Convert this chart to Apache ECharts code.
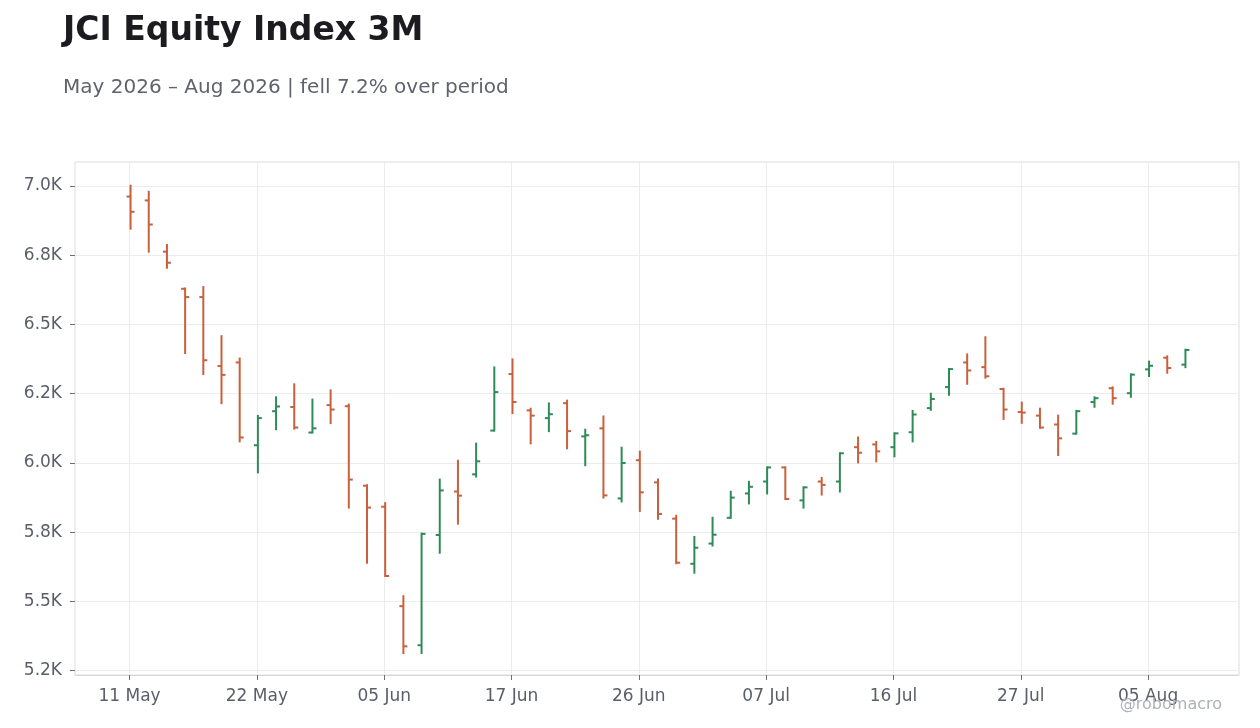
<!DOCTYPE html>
<html>
<head>
<meta charset="utf-8">
<title>JCI Equity Index 3M</title>
<script src="https://cdn.jsdelivr.net/npm/echarts@6.0.0/dist/echarts.min.js"></script>
<style>
  html, body { margin: 0; padding: 0; background: #ffffff; }
  #main { width: 1260px; height: 728px; }
</style>
</head>
<body>
<div id="main"></div>
<script>
// trading days (JCI, holidays skipped)
var dates = [
  '2026-05-11','2026-05-12','2026-05-13','2026-05-18','2026-05-19','2026-05-20','2026-05-21',
  '2026-05-22','2026-05-25','2026-05-28','2026-05-29','2026-06-02','2026-06-03','2026-06-04',
  '2026-06-05','2026-06-08','2026-06-09','2026-06-10','2026-06-11','2026-06-12','2026-06-15',
  '2026-06-17','2026-06-18','2026-06-19','2026-06-22','2026-06-23','2026-06-24','2026-06-25',
  '2026-06-26','2026-06-29','2026-06-30','2026-07-01','2026-07-02','2026-07-03','2026-07-06',
  '2026-07-07','2026-07-08','2026-07-09','2026-07-10','2026-07-13','2026-07-14','2026-07-15',
  '2026-07-16','2026-07-17','2026-07-20','2026-07-21','2026-07-22','2026-07-23','2026-07-24',
  '2026-07-27','2026-07-28','2026-07-29','2026-07-30','2026-07-31','2026-08-03','2026-08-04',
  '2026-08-05','2026-08-06','2026-08-07'
];
var openVals = [
  6962, 6948, 6763, 6629, 6599, 6350, 6363, 6064, 6187, 6202, 6110, 6209, 6205, 5918, 5842,
  5483, 5342, 5740, 5897, 5959, 6117, 6321, 6190, 6162, 6216, 6096, 6125, 5872, 6010, 5930,
  5799, 5636, 5709, 5802, 5890, 5933, 5984, 5865, 5933, 5933, 6057, 6067, 6057, 6111, 6198,
  6274, 6363, 6346, 6267, 6184, 6171, 6139, 6106, 6220, 6270, 6252, 6338, 6380, 6355
];
var highVals = [
  7001, 6979, 6787, 6630, 6635, 6458, 6377, 6170, 6237, 6284, 6229, 6262, 6211, 5920, 5855,
  5519, 5745, 5940, 6008, 6070, 6345, 6374, 6196, 6215, 6225, 6120, 6168, 6055, 6041, 5940,
  5809, 5733, 5802, 5896, 5932, 5984, 5984, 5912, 5946, 6035, 6092, 6076, 6107, 6188, 6250,
  6339, 6392, 6454, 6268, 6218, 6196, 6171, 6188, 6237, 6273, 6320, 6366, 6385, 6409
];
var lowVals = [
  6846, 6763, 6705, 6397, 6321, 6216, 6078, 5966, 6122, 6124, 6110, 6144, 5839, 5640, 5592,
  5314, 5314, 5676, 5781, 5951, 6117, 6180, 6071, 6115, 6053, 5992, 5875, 5861, 5827, 5799,
  5638, 5604, 5702, 5802, 5854, 5890, 5870, 5839, 5886, 5897, 6002, 6006, 6024, 6078, 6192,
  6246, 6286, 6308, 6159, 6145, 6127, 6029, 6106, 6203, 6214, 6239, 6314, 6326, 6346
];
var closeVals = [
  6907, 6861, 6723, 6599, 6371, 6318, 6092, 6162, 6204, 6128, 6125, 6193, 5940, 5839, 5592,
  5338, 5744, 5901, 5882, 6006, 6256, 6220, 6171, 6176, 6115, 6100, 5883, 6000, 5894, 5816,
  5640, 5694, 5741, 5875, 5914, 5984, 5870, 5912, 5921, 6035, 6037, 6042, 6107, 6175, 6231,
  6339, 6334, 6313, 6193, 6182, 6128, 6089, 6187, 6234, 6234, 6319, 6351, 6343, 6408
];
var yTicks = [5250, 5500, 5750, 6000, 6250, 6500, 6750, 7000];

var upColor = '#2e8b57';
var downColor = '#c9603c';
var PAD = 3; // empty slots each side of the x axis
var months = ['Jan','Feb','Mar','Apr','May','Jun','Jul','Aug','Sep','Oct','Nov','Dec'];

var cats = [];
var i;
for (i = 0; i < PAD; i++) cats.push('');
dates.forEach(function (d) { cats.push(d); });
for (i = 0; i < PAD; i++) cats.push('');

var ohlc = dates.map(function (d, k) {
  return [k + PAD, openVals[k], highVals[k], lowVals[k], closeVals[k]];
});

function showEvery7(idx) {
  return idx >= PAD && idx < PAD + dates.length && (idx - PAD) % 7 === 0;
}
function fmtDate(s) {
  if (!s) return '';
  var p = s.split('-');
  return p[2] + ' ' + months[parseInt(p[1], 10) - 1];
}
// one decimal, rounded half to even (6250 -> 6.2K)
function fmtK(v) {
  var t = Math.round(v) / 100;
  var f = Math.floor(t);
  var r = t - f;
  if (r > 0.5 + 1e-9 || (Math.abs(r - 0.5) < 1e-9 && f % 2 === 1)) f += 1;
  return (f / 10).toFixed(1) + 'K';
}

var dom = document.getElementById('main');
var myChart = echarts.init(dom, null, { renderer: 'canvas' });
var font = 'DejaVu Sans';

var option = {
  backgroundColor: '#ffffff',
  animation: false,
  textStyle: { fontFamily: font },
  title: [{
    text: 'JCI Equity Index 3M',
    left: 58,
    top: 10,
    textStyle: { fontFamily: font, fontSize: 33, fontWeight: 'bold', color: '#1b1b20' }
  }, {
    text: 'May 2026 \u2013 Aug 2026 | fell 7.2% over period',
    left: 58,
    top: 73,
    textStyle: { fontFamily: font, fontSize: 20, fontWeight: 'normal', color: '#5f636d' }
  }],
  graphic: [{
    type: 'text',
    right: 38,
    top: 697,
    z: 100,
    style: { text: '@robomacro', fontFamily: font, fontSize: 16, fill: '#aeb1b8' }
  }],
  grid: {
    left: 75, right: 21, top: 162, bottom: 53,
    show: true, borderColor: '#dcdcde', borderWidth: 1, backgroundColor: '#ffffff'
  },
  xAxis: {
    type: 'category',
    data: cats,
    boundaryGap: false,
    axisLine: { show: true, lineStyle: { color: '#d6d6da' } },
    axisTick: { show: true, interval: showEvery7, length: 5, lineStyle: { color: '#6b6f78' } },
    axisLabel: {
      interval: showEvery7, margin: 13, fontSize: 17, color: '#5a5e68', fontFamily: font,
      formatter: function (v) { return fmtDate(v); }
    },
    splitLine: { show: true, interval: showEvery7, lineStyle: { color: '#ececee', width: 1 } }
  },
  yAxis: {
    type: 'value',
    min: 5234.5,
    max: 7086.7,
    axisLine: { show: false },
    axisTick: { show: true, customValues: yTicks, length: 5, lineStyle: { color: '#6b6f78' } },
    axisLabel: {
      customValues: yTicks, margin: 13, fontSize: 17, color: '#5a5e68', fontFamily: font,
      formatter: function (v) { return fmtK(v); }
    },
    splitLine: { show: true, lineStyle: { color: '#ececee', width: 1 } }
  },
  series: [{
    type: 'custom',
    name: 'JCI',
    data: ohlc,
    encode: { x: 0, y: [1, 2, 3, 4] },
    renderItem: function (params, api) {
      var x = api.value(0);
      var o = api.value(1), h = api.value(2), l = api.value(3), c = api.value(4);
      var pH = api.coord([x, h]);
      var pL = api.coord([x, l]);
      var pO = api.coord([x, o]);
      var pC = api.coord([x, c]);
      var color = c >= o ? upColor : downColor;
      var st = { stroke: color, lineWidth: 2, lineCap: 'butt' };
      var tick = 4;
      var cx = pH[0] + 1;
      return {
        type: 'group',
        children: [
          { type: 'line', shape: { x1: cx, y1: pH[1] - 1, x2: cx, y2: pL[1] + 1 }, style: st },
          { type: 'line', shape: { x1: cx - tick, y1: pO[1], x2: cx, y2: pO[1] }, style: st },
          { type: 'line', shape: { x1: cx, y1: pC[1], x2: cx + tick, y2: pC[1] }, style: st }
        ]
      };
    }
  }]
};

myChart.setOption(option);
</script>
</body>
</html>
